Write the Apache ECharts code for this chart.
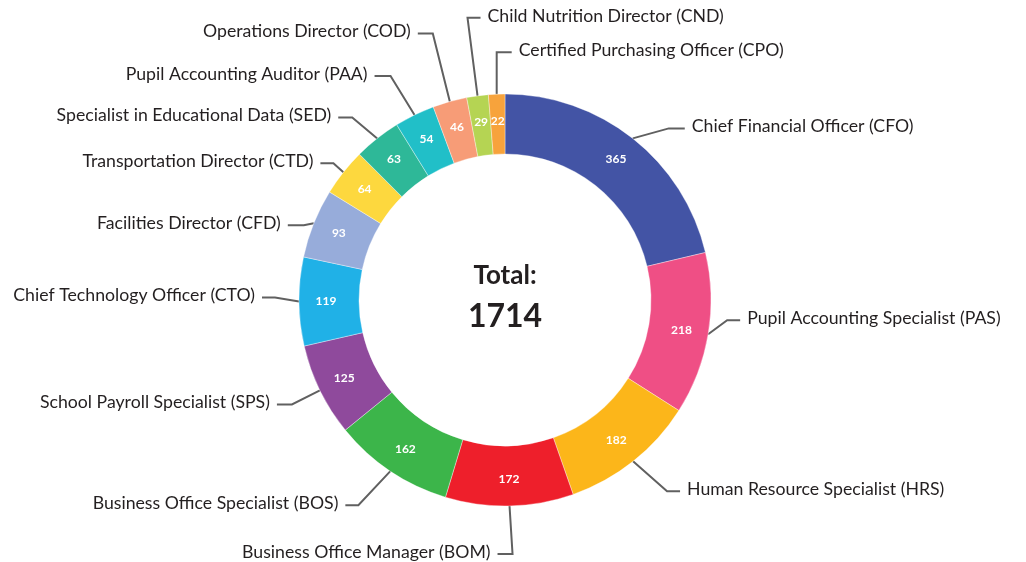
<!DOCTYPE html>
<html>
<head>
<meta charset="utf-8">
<script src="https://cdn.jsdelivr.net/npm/echarts@6/dist/echarts.min.js"></script>
<style>
  html, body { margin: 0; padding: 0; background: #fff; }
  #main { width: 1026px; height: 562px; }
</style>
</head>
<body>
<div id="main"></div>
<script>
// roles, clockwise from 12 o'clock
var roles = [
  'Chief Financial Officer (CFO)',
  'Pupil Accounting Specialist (PAS)',
  'Human Resource Specialist (HRS)',
  'Business Office Manager (BOM)',
  'Business Office Specialist (BOS)',
  'School Payroll Specialist (SPS)',
  'Chief Technology Officer (CTO)',
  'Facilities Director (CFD)',
  'Transportation Director (CTD)',
  'Specialist in Educational Data (SED)',
  'Pupil Accounting Auditor (PAA)',
  'Operations Director (COD)',
  'Child Nutrition Director (CND)',
  'Certified Purchasing Officer (CPO)'
];
var counts = [365, 218, 182, 172, 162, 125, 119, 93, 64, 63, 54, 46, 29, 22];
var colors = ['#4354a5', '#ef4f85', '#fcb61a', '#ee1f2b', '#3cb54a', '#8f4a9c', '#20b1e7',
  '#97acda', '#fdd83e', '#2eb898', '#21bfc8', '#f79c77', '#b5d453', '#f7a33c'];

// label line shape per slice: elbow offset from the slice edge [dx, dy], then horizontal run (sign = side)
var lineOffsets = [
  [36, -10, 16], [19, -14, 13], [34, 30, 13], [3, 48, -15], [-32, 34, -13],
  [-28, 14, -15], [-24, -4, -13], [-10, 2, -16], [-10, -9, -13], [-25, -21, -14],
  [-24, -39, -16], [-17, -68, -15], [-10, -78, 13], [0, -42, 15]
];

var total = counts.reduce(function (a, b) { return a + b; }, 0);
var pieData = roles.map(function (name, i) {
  return { name: name, value: counts[i], itemStyle: { color: colors[i] } };
});

var center = [505, 300];
var radius = [146, 206];

var option = {
  animation: false,
  graphic: [{
    type: 'text', x: center[0], y: 276,
    style: { text: 'Total:', fill: '#231f20', font: 'bold 26px Lato', align: 'center', verticalAlign: 'middle' }
  }, {
    type: 'text', x: center[0], y: 317,
    style: { text: String(total), fill: '#231f20', font: 'bold 32px Lato', align: 'center', verticalAlign: 'middle' }
  }],
  series: [{
    type: 'pie',
    center: center,
    radius: radius,
    startAngle: 90,
    clockwise: true,
    silent: true,
    avoidLabelOverlap: false,
    itemStyle: { borderColor: 'rgba(255,255,255,0.6)', borderWidth: 0.6 },
    label: {
      position: 'inside',
      formatter: '{c}',
      color: '#fff',
      fontFamily: 'Lato',
      fontWeight: 'bold',
      fontSize: 12
    },
    labelLine: { show: false },
    data: pieData
  }, {
    type: 'pie',
    center: center,
    radius: radius,
    startAngle: 90,
    clockwise: true,
    silent: true,
    avoidLabelOverlap: false,
    itemStyle: { color: 'rgba(0,0,0,0)' },
    label: {
      position: 'outside',
      formatter: '{b}',
      color: '#231f20',
      fontFamily: 'Lato',
      fontSize: 17.7
    },
    labelLine: {
      show: true,
      length: 20,
      length2: 15,
      lineStyle: { color: '#606060', width: 2 }
    },
    labelLayout: function (params) {
      var off = lineOffsets[params.dataIndex];
      var p0 = params.labelLinePoints[0];
      var p1 = [p0[0] + off[0], p0[1] + off[1]];
      var p2 = [p1[0] + off[2], p1[1]];
      return {
        x: p2[0] + (off[2] > 0 ? 7 : -7),
        y: p2[1] - 2,
        align: off[2] > 0 ? 'left' : 'right',
        verticalAlign: 'middle',
        labelLinePoints: [p0, p1, p2]
      };
    },
    data: pieData.map(function (d) { return { name: d.name, value: d.value }; })
  }]
};

var myChart = echarts.init(document.getElementById('main'));
myChart.setOption(option);
</script>
</body>
</html>
